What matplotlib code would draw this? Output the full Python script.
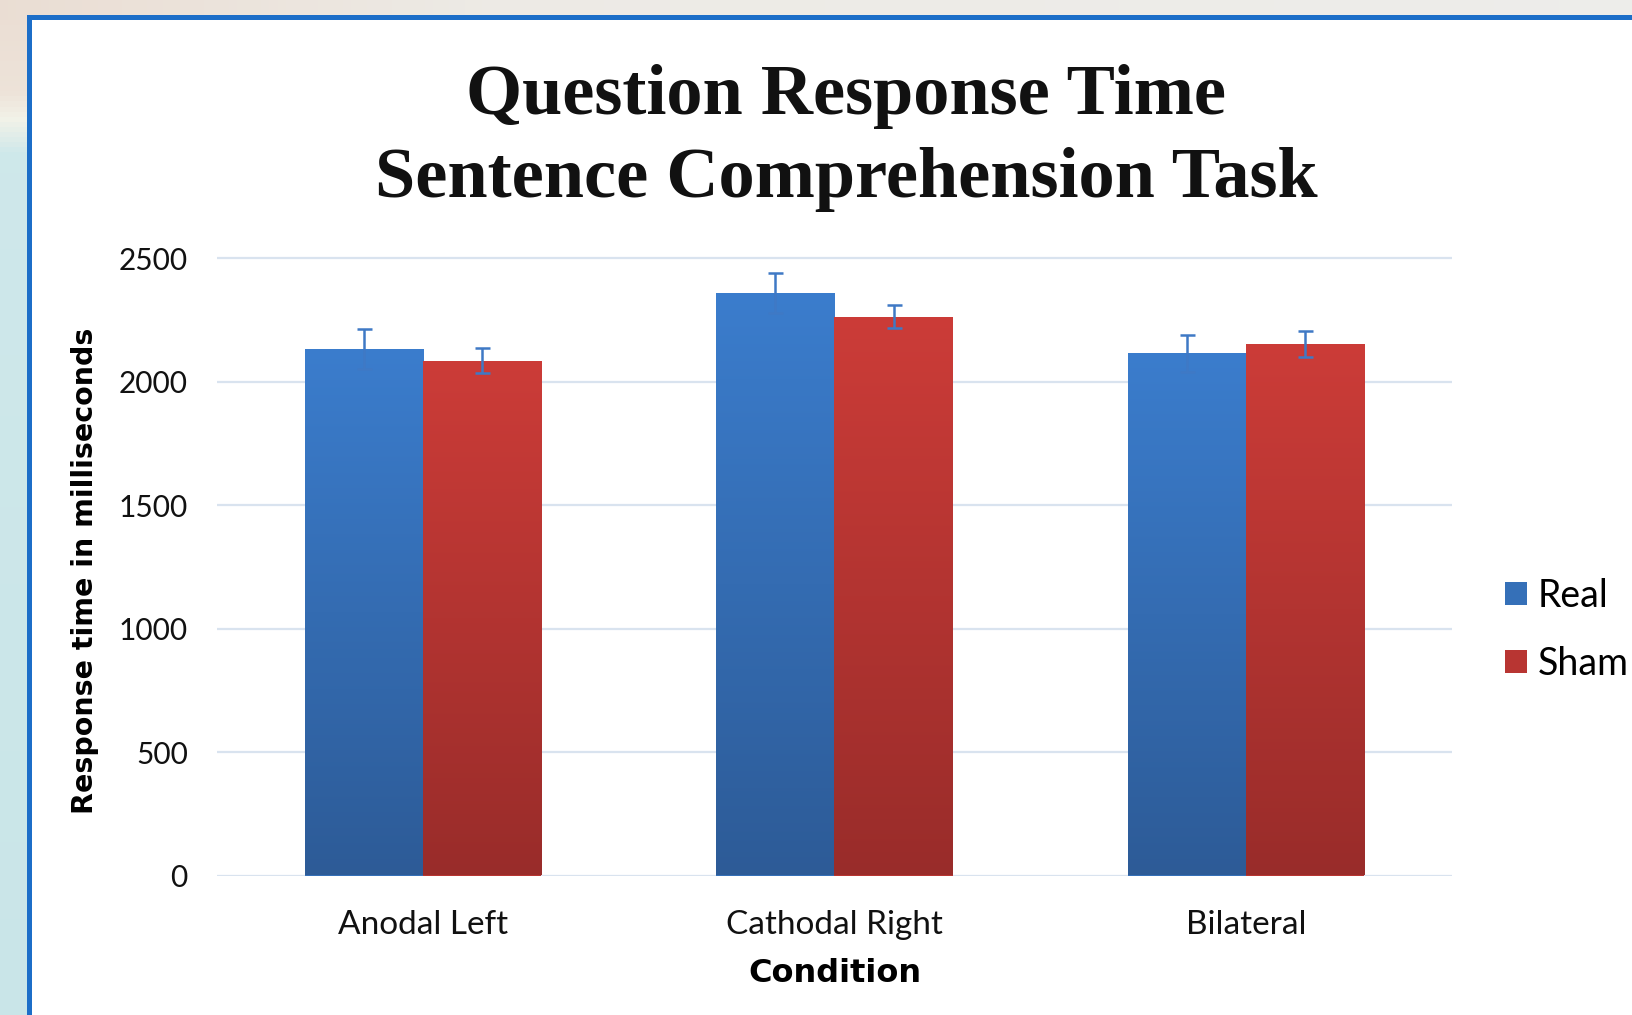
import matplotlib
matplotlib.use('Agg')
import matplotlib.pyplot as plt
import numpy as np
from matplotlib.colors import LinearSegmentedColormap
from matplotlib.patches import Rectangle, Patch

categories = ['Anodal Left', 'Cathodal Right', 'Bilateral']
series_names = ['Real', 'Sham']
real_ms = [2133, 2359, 2115]
sham_ms = [2086, 2264, 2154]
real_err = [80, 80, 76]
sham_err = [52, 47, 52]
yticks = [0, 500, 1000, 1500, 2000, 2500]

W, H = 1633, 1015
fig = plt.figure(figsize=(W / 100, H / 100), dpi=100)

# ---- background (slide behind the chart) ----
bg = fig.add_axes([0, 0, 1, 1], zorder=-5)
bg.axis('off')
ny, nx = 200, 200
yf = np.linspace(0, 1, ny)
ystops = [0.0, 0.09, 0.115, 0.15, 1.0]
ycols = np.array([[0.92, 0.87, 0.83], [0.93, 0.89, 0.85], [0.95, 0.95, 0.91],
                  [0.81, 0.91, 0.92], [0.79, 0.90, 0.91]])
left = np.stack([np.interp(yf, ystops, ycols[:, c]) for c in range(3)], axis=1)
img = np.repeat(left[:, None, :], nx, axis=1)
xf = np.linspace(0, 1, nx)
xstops = [0.0, 0.3, 1.0]
xcols = np.array([[0.92, 0.87, 0.83], [0.93, 0.92, 0.90], [0.93, 0.93, 0.92]])
top = np.stack([np.interp(xf, xstops, xcols[:, c]) for c in range(3)], axis=1)
img[:4, :, :] = top[None, :, :]
bg.imshow(img, extent=[0, 1, 0, 1], aspect='auto', origin='upper')
bg.set_xlim(0, 1)
bg.set_ylim(0, 1)

panel = Rectangle((29.5 / W, -0.1), 1.2, 1 - 16.5 / H + 0.1, transform=fig.transFigure,
                  facecolor='white', edgecolor='#1C6EC8', linewidth=3.6, zorder=-4)
fig.patches.append(panel)

# ---- main axes ----
ax = fig.add_axes([217 / W, (H - 875.5) / H, 1235 / W, 622 / H])
ax.set_facecolor('none')
x = np.arange(len(categories))
w = 0.287

blue_cmap = LinearSegmentedColormap.from_list('b', ['#2D5B97', '#3B7DCD'])
red_cmap = LinearSegmentedColormap.from_list('r', ['#992C2A', '#CC3C38'])

b1 = ax.bar(x - w / 2, real_ms, w, color='#3570B8', zorder=2, label=series_names[0])
b2 = ax.bar(x + w / 2, sham_ms, w, color='#B83532', zorder=2, label=series_names[1])
grad = np.linspace(0, 1, 256).reshape(-1, 1)
for bars, cmap in ((b1, blue_cmap), (b2, red_cmap)):
    for p in bars:
        bb = p.get_bbox()
        im = ax.imshow(grad, extent=[bb.x0, bb.x1, bb.y0, bb.y1], aspect='auto',
                       cmap=cmap, origin='lower', zorder=2.5)
        im.set_clip_path(p)

ekw = dict(fmt='none', ecolor='#3F79C5', elinewidth=1.8, capsize=5.4, capthick=1.8, zorder=4)
ax.errorbar(x - w / 2, real_ms, yerr=real_err, **ekw)
ax.errorbar(x + w / 2, sham_ms, yerr=sham_err, **ekw)

ax.set_xlim(-0.5, 2.5)
ax.set_ylim(0, 2520)
ax.set_aspect('auto')
ax.set_yticks(yticks)
ax.set_yticklabels([str(t) for t in yticks])
ax.set_xticks(x)
ax.set_xticklabels(categories)
ax.yaxis.grid(True, color='#D9E3EF', linewidth=1.6)
ax.set_axisbelow(True)
for s in ax.spines.values():
    s.set_visible(False)
ax.tick_params(axis='both', length=0, labelcolor='#111111')
ax.tick_params(axis='y', pad=21, labelsize=21.5)
ax.tick_params(axis='x', pad=25, labelsize=24)
for lab in ax.get_xticklabels() + ax.get_yticklabels():
    lab.set_family('Lato')

ax.set_ylabel('Response time in milliseconds', fontsize=20.5, fontweight='bold',
              family='DejaVu Sans', va='center')
ax.yaxis.set_label_coords((85 - 217) / 1235, (875.5 - 571) / 622)
ax.set_xlabel('Condition', fontsize=23, fontweight='bold', family='DejaVu Sans', va='center')
ax.xaxis.set_label_coords(0.5, (875.5 - 974) / 622)

handles = [Patch(facecolor='#3570B8'), Patch(facecolor='#B83532')]
ax.legend(handles, series_names, loc='center left', bbox_to_anchor=((1505 - 217) / 1235, (875.5 - 630) / 622),
          frameon=False, borderpad=0, borderaxespad=0, handlelength=0.58, handleheight=0.58,
          handletextpad=0.3, labelspacing=0.85, prop={'family': 'Lato', 'size': 27})

fig.text(846 / W, 1 - 138 / H, 'Question Response Time\nSentence Comprehension Task',
         ha='center', va='center', fontsize=52, family='Liberation Serif', fontweight='bold',
         linespacing=1.37, color='#111111')

fig.savefig('out.png', dpi=100)
